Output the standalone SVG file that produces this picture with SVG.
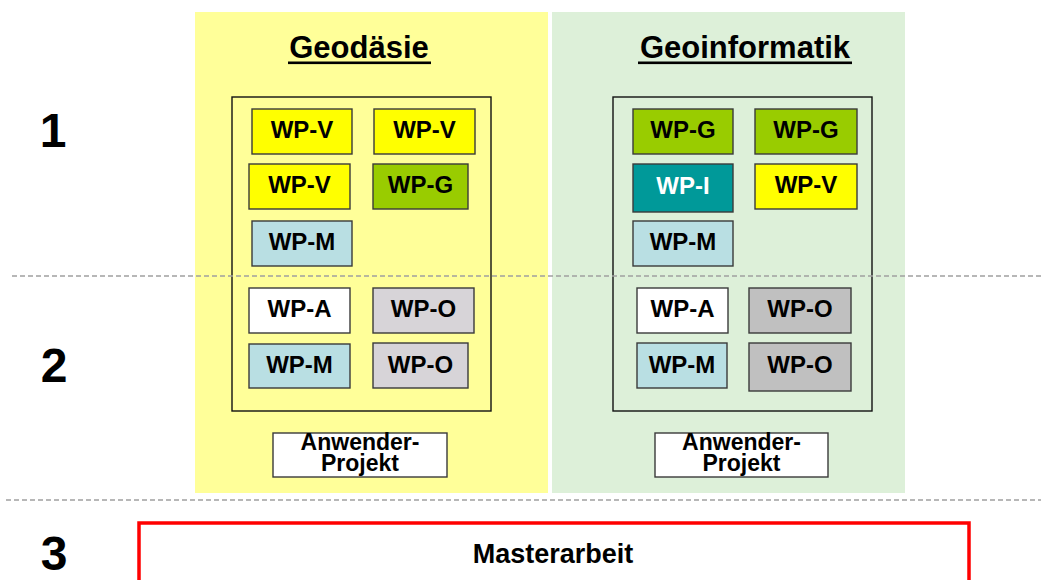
<svg xmlns="http://www.w3.org/2000/svg" width="1041" height="580" viewBox="0 0 1041 580">
<style>
text{font-family:"Liberation Sans",Arial,sans-serif;font-weight:bold;fill:#000;text-anchor:middle}
.wp{stroke:#3a3a3a;stroke-width:1.4}
.wpt{font-size:24px}
.inner{fill:none;stroke:#111;stroke-width:1.4}
.dash{stroke:#a0a0a0;stroke-width:1.5;stroke-dasharray:5 3}
.num{font-size:48px}
.title{font-size:31px}
.ap{font-size:23px}
</style>
<rect x="0" y="0" width="1041" height="580" fill="#fff"/>
<g id="panel-geodaesie">
<rect x="195" y="12" width="353" height="481" fill="#ffff99"/>
<text class="title" x="359" y="58">Geodäsie</text>
<rect x="288" y="61.5" width="143" height="2.6" fill="#000"/>
<rect class="inner" x="232" y="97" width="259" height="314"/>
</g>
<g id="panel-geoinformatik">
<rect x="552" y="12" width="353" height="481" fill="#ddf0d9"/>
<text class="title" x="745" y="58">Geoinformatik</text>
<rect x="638" y="61.5" width="214" height="2.6" fill="#000"/>
<rect class="inner" x="613" y="97" width="259" height="314"/>
</g>
<g id="connectors">
<line class="dash" x1="12" y1="276" x2="1041" y2="276"/>
<line class="dash" x1="6" y1="500" x2="1041" y2="500"/>
</g>
<g id="labels">
<text class="num" x="53" y="147">1</text>
<text class="num" x="54" y="382">2</text>
<text class="num" x="54" y="570">3</text>
</g>
<g id="g-wpv1"><rect class="wp" x="252" y="109" width="100" height="45" fill="#ffff00"/><text class="wpt" x="302" y="138">WP-V</text></g>
<g id="g-wpv2"><rect class="wp" x="374" y="109" width="101" height="45" fill="#ffff00"/><text class="wpt" x="424.5" y="138">WP-V</text></g>
<g id="g-wpv3"><rect class="wp" x="249" y="164" width="101" height="45" fill="#ffff00"/><text class="wpt" x="299.5" y="193">WP-V</text></g>
<g id="g-wpg"><rect class="wp" x="373" y="164" width="95" height="45" fill="#99cc00"/><text class="wpt" x="420.5" y="193">WP-G</text></g>
<g id="g-wpm1"><rect class="wp" x="252" y="221" width="100" height="45" fill="#b9dfe3"/><text class="wpt" x="302" y="250">WP-M</text></g>
<g id="g-wpa"><rect class="wp" x="249" y="288" width="101" height="45" fill="#ffffff"/><text class="wpt" x="299.5" y="317">WP-A</text></g>
<g id="g-wpo1"><rect class="wp" x="373" y="288" width="101" height="45" fill="#d7d4d8"/><text class="wpt" x="423.5" y="317">WP-O</text></g>
<g id="g-wpm2"><rect class="wp" x="249" y="344" width="101" height="44" fill="#b9dfe3"/><text class="wpt" x="299.5" y="373">WP-M</text></g>
<g id="g-wpo2"><rect class="wp" x="373" y="343" width="95" height="45" fill="#d7d4d8"/><text class="wpt" x="420.5" y="373">WP-O</text></g>
<g id="g-anw"><rect class="wp" x="273" y="433" width="174" height="44" fill="#ffffff"/><text class="ap" x="360" y="450">Anwender-</text><text class="ap" x="360" y="471">Projekt</text></g>
<g id="i-wpg1"><rect class="wp" x="633" y="109" width="100" height="45" fill="#99cc00"/><text class="wpt" x="683" y="138">WP-G</text></g>
<g id="i-wpg2"><rect class="wp" x="755" y="109" width="102" height="45" fill="#99cc00"/><text class="wpt" x="806" y="138">WP-G</text></g>
<g id="i-wpi"><rect class="wp" x="633" y="164" width="100" height="48" fill="#009999"/><text class="wpt" x="683" y="194" style="fill:#fff">WP-I</text></g>
<g id="i-wpv"><rect class="wp" x="755" y="164" width="102" height="45" fill="#ffff00"/><text class="wpt" x="806" y="193">WP-V</text></g>
<g id="i-wpm1"><rect class="wp" x="633" y="221" width="100" height="45" fill="#b9dfe3"/><text class="wpt" x="683" y="250">WP-M</text></g>
<g id="i-wpa"><rect class="wp" x="637" y="288" width="91" height="45" fill="#ffffff"/><text class="wpt" x="682.5" y="317">WP-A</text></g>
<g id="i-wpo1"><rect class="wp" x="749" y="288" width="102" height="45" fill="#c0c0c0"/><text class="wpt" x="800" y="317">WP-O</text></g>
<g id="i-wpm2"><rect class="wp" x="637" y="343" width="90" height="45" fill="#b9dfe3"/><text class="wpt" x="682" y="373">WP-M</text></g>
<g id="i-wpo2"><rect class="wp" x="749" y="343" width="102" height="48" fill="#c0c0c0"/><text class="wpt" x="800" y="373">WP-O</text></g>
<g id="i-anw"><rect class="wp" x="655" y="433" width="173" height="44" fill="#ffffff"/><text class="ap" x="741.5" y="450">Anwender-</text><text class="ap" x="741.5" y="471">Projekt</text></g>
<g id="master"><rect x="139" y="523" width="830" height="70" fill="#fff" stroke="#ff0000" stroke-width="3.5"/><text x="553" y="563" style="font-size:27px">Masterarbeit</text></g>
</svg>
